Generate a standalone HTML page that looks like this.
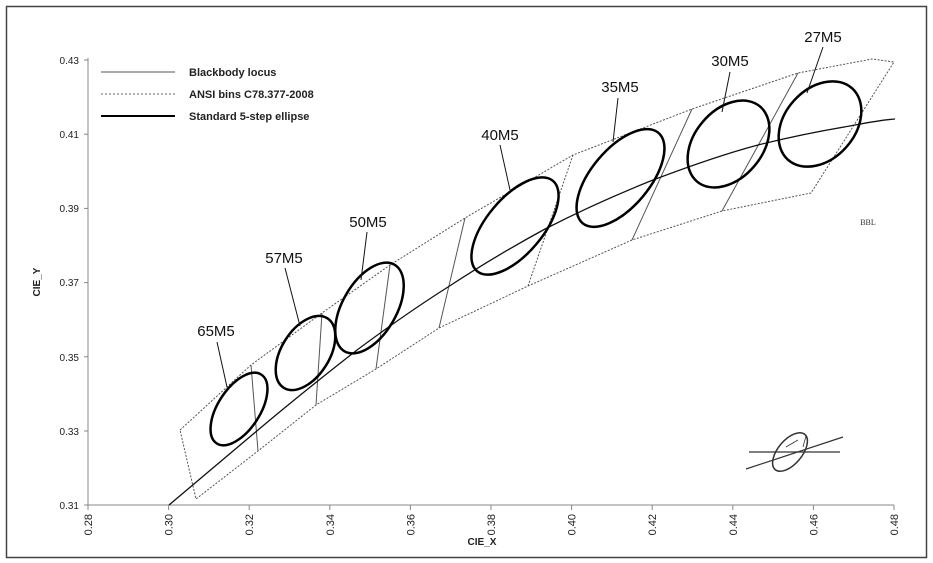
<!DOCTYPE html>
<html><head><meta charset="utf-8"><style>
html,body{margin:0;padding:0;background:#fff;}
svg{display:block;font-family:"Liberation Sans",sans-serif;}
</style></head><body>
<svg width="933" height="563" viewBox="0 0 933 563" xmlns="http://www.w3.org/2000/svg">
<rect x="0" y="0" width="933" height="563" fill="#fff"/>
<rect x="6.5" y="6.5" width="920" height="551" fill="none" stroke="#444" stroke-width="1.5"/>
<g stroke="#888" stroke-width="1" fill="none">
<line x1="88" y1="58" x2="88" y2="505"/>
<line x1="88" y1="505" x2="894" y2="505"/>
<line x1="84" y1="60" x2="88" y2="60"/><line x1="84" y1="134.2" x2="88" y2="134.2"/>
<line x1="84" y1="208.4" x2="88" y2="208.4"/><line x1="84" y1="282.6" x2="88" y2="282.6"/>
<line x1="84" y1="356.8" x2="88" y2="356.8"/><line x1="84" y1="431" x2="88" y2="431"/>
<line x1="84" y1="505" x2="88" y2="505"/>
<line x1="88" y1="505" x2="88" y2="510"/><line x1="168.6" y1="505" x2="168.6" y2="510"/>
<line x1="249.2" y1="505" x2="249.2" y2="510"/><line x1="329.8" y1="505" x2="329.8" y2="510"/>
<line x1="410.4" y1="505" x2="410.4" y2="510"/><line x1="491" y1="505" x2="491" y2="510"/>
<line x1="571.6" y1="505" x2="571.6" y2="510"/><line x1="652.2" y1="505" x2="652.2" y2="510"/>
<line x1="732.8" y1="505" x2="732.8" y2="510"/><line x1="813.4" y1="505" x2="813.4" y2="510"/>
<line x1="894" y1="505" x2="894" y2="510"/>
</g>
<g font-size="10" fill="#222" text-anchor="end">
<text x="79" y="64">0.43</text><text x="79" y="138">0.41</text><text x="79" y="212">0.39</text>
<text x="79" y="286">0.37</text><text x="79" y="361">0.35</text><text x="79" y="435">0.33</text>
<text x="79" y="509">0.31</text>
</g>
<g font-size="11" fill="#222" text-anchor="end">
<text transform="translate(92,514) rotate(-90)">0.28</text>
<text transform="translate(172.6,514) rotate(-90)">0.30</text>
<text transform="translate(253.2,514) rotate(-90)">0.32</text>
<text transform="translate(333.8,514) rotate(-90)">0.34</text>
<text transform="translate(414.4,514) rotate(-90)">0.36</text>
<text transform="translate(495,514) rotate(-90)">0.38</text>
<text transform="translate(575.6,514) rotate(-90)">0.40</text>
<text transform="translate(656.2,514) rotate(-90)">0.42</text>
<text transform="translate(736.8,514) rotate(-90)">0.44</text>
<text transform="translate(817.4,514) rotate(-90)">0.46</text>
<text transform="translate(898,514) rotate(-90)">0.48</text>
</g>
<text x="482" y="545" font-size="10" font-weight="bold" text-anchor="middle" fill="#222">CIE_X</text>
<text transform="translate(40,282) rotate(-90)" font-size="10" font-weight="bold" text-anchor="middle" fill="#222">CIE_Y</text>
<line x1="101" y1="72" x2="175" y2="72" stroke="#aaa" stroke-width="2"/>
<line x1="101" y1="94" x2="175" y2="94" stroke="#999" stroke-width="1.5" stroke-dasharray="2,2"/>
<line x1="101" y1="116" x2="175" y2="116" stroke="#000" stroke-width="2"/>
<g font-size="11" font-weight="bold" fill="#222">
<text x="189" y="76">Blackbody locus</text>
<text x="189" y="98">ANSI bins C78.377-2008</text>
<text x="189" y="120">Standard 5-step ellipse</text>
</g>
<polygon points="180,430 251,365 322,313 390,265 465,218 573,155 692,109 798,73 872,59 894,62 811,193 722,211 632,240 528,286 439,328 376,369 316,405 258,451 196,499" fill="none" stroke="#555" stroke-width="1" stroke-dasharray="2,1.5"/>
<g stroke="#555" stroke-width="1" fill="none">
<line x1="251" y1="365" x2="258" y2="451"/>
<line x1="322" y1="313" x2="316" y2="405"/>
<line x1="390" y1="265" x2="376" y2="369"/>
<line x1="465" y1="218" x2="439" y2="328"/>
<line x1="573" y1="155" x2="528" y2="286" stroke-dasharray="2,1.5"/>
<line x1="692" y1="109" x2="632" y2="240"/>
<line x1="798" y1="73" x2="722" y2="211"/>
</g>
<path d="M169,505 L258,430 C290,403 325,375 357,350 C388,327 418,306 448,287 C480,266 512,247 545,229 C582,210 618,194 653,180 C690,166 724,154 758,145 C790,137 820,131 850,126 C866,123 880,120 895,119" fill="none" stroke="#111" stroke-width="1.3"/>
<g fill="none" stroke="#000" stroke-width="2.5">
<ellipse cx="239" cy="409" rx="41" ry="21" transform="rotate(-57 239 409)"/>
<ellipse cx="305.5" cy="353" rx="41" ry="24" transform="rotate(-58 305.5 353)"/>
<ellipse cx="369.5" cy="308" rx="50" ry="27" transform="rotate(-60 369.5 308)"/>
<ellipse cx="515" cy="226" rx="59" ry="28" transform="rotate(-50 515 226)"/>
<ellipse cx="620.5" cy="178" rx="59" ry="29" transform="rotate(-50 620.5 178)"/>
<ellipse cx="728.5" cy="144" rx="49" ry="34" transform="rotate(-50 728.5 144)"/>
<ellipse cx="820" cy="124" rx="48" ry="35" transform="rotate(-48 820 124)"/>
</g>
<g stroke="#111" stroke-width="1">
<line x1="217" y1="342" x2="227" y2="387"/>
<line x1="285" y1="268" x2="300" y2="326"/>
<line x1="367" y1="232" x2="361" y2="280"/>
<line x1="500" y1="145" x2="510" y2="190"/>
<line x1="618" y1="98" x2="613" y2="142"/>
<line x1="730" y1="72" x2="722" y2="112"/>
<line x1="823" y1="47" x2="807" y2="93"/>
</g>
<g font-size="15" fill="#111" text-anchor="middle">
<text x="216" y="336">65M5</text>
<text x="284" y="263">57M5</text>
<text x="368" y="227">50M5</text>
<text x="500" y="140">40M5</text>
<text x="620" y="92">35M5</text>
<text x="730" y="66">30M5</text>
<text x="823" y="42">27M5</text>
</g>
<text x="868" y="225" font-size="8" font-family="Liberation Serif,serif" fill="#333" text-anchor="middle">BBL</text>
<g fill="none" stroke="#333" stroke-width="1.2">
<line x1="749" y1="452" x2="840" y2="452"/>
<line x1="746" y1="469" x2="843" y2="437"/>
<ellipse cx="790" cy="452" rx="23" ry="12" transform="rotate(-50 790 452)" stroke-width="1.5"/>
<line x1="786" y1="447" x2="798" y2="440" stroke-width="0.8"/>
<line x1="806" y1="436" x2="803" y2="447" stroke-width="0.8"/>
</g>
</svg>
</body></html>
